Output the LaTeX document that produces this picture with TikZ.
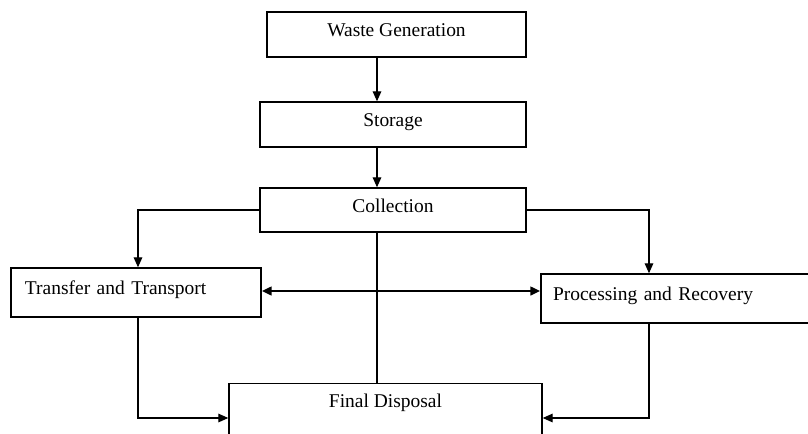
\documentclass[tikz,border=0pt]{standalone}
\usepackage{fontspec}
\setmainfont{Liberation Serif}
\usetikzlibrary{arrows.meta}
\tikzset{
  box/.style={draw, line width=1.1pt, fill=white, inner sep=0pt, align=center,
    font=\fontsize{14.6}{16}\selectfont},
  raised/.style={text height=10pt, text depth=6.4pt},
  conn/.style={line width=0.8pt},
  arr/.style={conn, -{Triangle[length=7.5pt,width=6.5pt]}},
  darr/.style={line width=1.8pt, {Triangle[length=7.5pt,width=6.5pt]}-{Triangle[length=7.5pt,width=6.5pt]}}
}
\begin{document}
\begin{tikzpicture}[x=0.75pt,y=-0.75pt]
\useasboundingbox (0,0) rectangle (808,433);
\clip (0,0) rectangle (808,433);
\fill[white] (0,0) rectangle (808,433);
\node[box, raised, minimum width=194.25pt, minimum height=33.75pt] (wg) at (396.5,34.5) {Waste Generation};
\node[box, raised, minimum width=199.5pt, minimum height=33.75pt] (st) at (393,124.5) {Storage};
\node[box, raised, minimum width=199.5pt, minimum height=33pt] (col) at (393,210) {Collection};
\node[box, raised, minimum height=36.75pt, inner xsep=10.5pt, text width=166.5pt, align=left] (tr) at (136,292.5) {Transfer and Transport};
\node[box, raised, minimum height=36.75pt, inner xsep=9pt, text width=198.75pt, align=left] (pr) at (685.5,298.5) {Processing and Recovery};
\node[box, anchor=north, minimum width=234.75pt, inner ysep=8pt, text height=9.6pt, text depth=50pt] (fd) at (385.5,383) {Final Disposal};
\coordinate (cx) at (377,0);
\coordinate (lx) at (138,0);
\coordinate (rx) at (649,0);
\coordinate (ly) at (0,418);
\coordinate (my) at (0,291);
\draw[arr] (wg.south -| cx) -- (st.north -| cx);
\draw[arr] (st.south -| cx) -- (col.north -| cx);
\draw[arr] (col.west) -| (tr.north -| lx);
\draw[arr] (col.east) -| (pr.north -| rx);
\draw[conn] (col.south -| cx) -- (fd.north -| cx);
\draw[arr] (tr.south -| lx) |- (fd.west |- ly);
\draw[arr] (pr.south -| rx) |- (fd.east |- ly);
\draw[darr] (tr.east |- my) -- (pr.west |- my);
\end{tikzpicture}
\end{document}
